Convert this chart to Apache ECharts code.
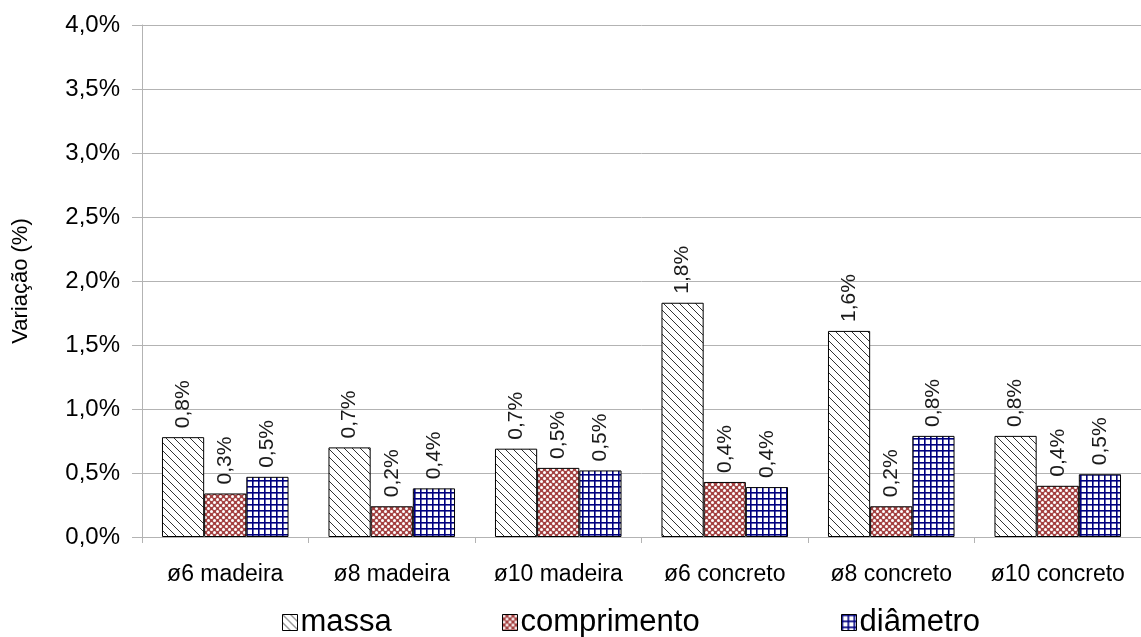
<!DOCTYPE html>
<html>
<head>
<meta charset="utf-8">
<script src="https://cdn.jsdelivr.net/npm/echarts@6/dist/echarts.min.js"></script>
<style>
  html, body { margin: 0; padding: 0; background: #fff; }
  #chart { width: 1141px; height: 637px; }
</style>
</head>
<body>
<div id="chart"></div>
<script>
// Categories and series values (percent)
var categories = ['ø6 madeira', 'ø8 madeira', 'ø10 madeira', 'ø6 concreto', 'ø8 concreto', 'ø10 concreto'];
var massa = [0.78, 0.70, 0.69, 1.83, 1.61, 0.79];
var comprimento = [0.34, 0.24, 0.54, 0.43, 0.24, 0.40];
var diametro = [0.47, 0.38, 0.52, 0.39, 0.79, 0.49];
var seriesNames = ['massa', 'comprimento', 'diâmetro'];
var yTicks = { min: 0, max: 4, interval: 0.5 };

var FONT = '"Liberation Sans", Arial, sans-serif';

function fmtPct(v) {
  return v.toFixed(1).replace('.', ',') + '%';
}

// Hatch fills drawn on small tiles
function hatchDiagonal() {
  var c = document.createElement('canvas');
  c.width = 8; c.height = 8;
  var g = c.getContext('2d');
  g.fillStyle = '#ffffff';
  g.fillRect(0, 0, 8, 8);
  g.strokeStyle = '#333333';
  g.lineWidth = 1;
  g.beginPath();
  // "\" direction lines, tiled seamlessly
  g.moveTo(-1, -1); g.lineTo(9, 9);
  g.moveTo(-9, -1); g.lineTo(1, 9);
  g.moveTo(7, -1); g.lineTo(17, 9);
  g.stroke();
  return c;
}

function hatchDots() {
  var c = document.createElement('canvas');
  c.width = 6; c.height = 6;
  var g = c.getContext('2d');
  g.fillStyle = '#a44242';
  g.fillRect(0, 0, 6, 6);
  g.fillStyle = '#ffffff';
  g.beginPath(); g.arc(1.5, 1.5, 1.5, 0, Math.PI * 2); g.fill();
  g.beginPath(); g.arc(4.5, 4.5, 1.5, 0, Math.PI * 2); g.fill();
  return c;
}

function hatchGrid() {
  var c = document.createElement('canvas');
  c.width = 6; c.height = 6;
  var g = c.getContext('2d');
  g.fillStyle = '#ffffff';
  g.fillRect(0, 0, 6, 6);
  g.fillStyle = '#000080';
  g.fillRect(0, 0, 6, 1.6);
  g.fillRect(0, 0, 1.6, 6);
  return c;
}

var fills = [
  { image: hatchDiagonal(), repeat: 'repeat' },
  { image: hatchDots(), repeat: 'repeat' },
  { image: hatchGrid(), repeat: 'repeat' }
];
var seriesData = [massa, comprimento, diametro];

var chart = echarts.init(document.getElementById('chart'), null, { renderer: 'canvas' });

var series = seriesNames.map(function (name, i) {
  return {
    name: name,
    type: 'bar',
    data: seriesData[i],
    barGap: '0%',
    barCategoryGap: '24%',
    itemStyle: { color: fills[i], borderColor: '#000000', borderWidth: 1 },
    emphasis: { disabled: true },
    label: {
      show: true,
      position: 'top',
      rotate: 90,
      align: 'left',
      verticalAlign: 'middle',
      distance: 9,
      fontFamily: FONT,
      fontSize: 21,
      color: '#1a1a1a',
      formatter: function (p) { return fmtPct(p.value); }
    }
  };
});

function legendAt(name, left) {
  return {
    data: [name],
    left: left,
    top: 607,
    padding: 0,
    itemWidth: 15,
    itemHeight: 16,
    icon: 'rect',
    selectedMode: false,
    textStyle: { fontFamily: FONT, fontSize: 31, color: '#000000', padding: [0, 0, 0, -2] },
    itemStyle: { borderColor: '#000000', borderWidth: 1 }
  };
}

chart.setOption({
  animation: false,
  backgroundColor: '#ffffff',
  grid: { left: 142, right: 0, top: 25, bottom: 100, containLabel: false },
  legend: [
    legendAt('massa', 282),
    legendAt('comprimento', 502),
    legendAt('diâmetro', 841)
  ],
  xAxis: {
    type: 'category',
    data: categories,
    axisLine: { show: true, lineStyle: { color: '#b3b3b3', width: 1 } },
    axisTick: { show: true, length: 6, lineStyle: { color: '#b3b3b3' } },
    axisLabel: { interval: 0, hideOverlap: false, fontFamily: FONT, fontSize: 23, color: '#000000', margin: 26 },
    splitLine: { show: false }
  },
  yAxis: {
    type: 'value',
    min: yTicks.min,
    max: yTicks.max,
    interval: yTicks.interval,
    name: 'Variação (%)',
    nameLocation: 'middle',
    nameGap: 110,
    nameRotate: 90,
    nameTextStyle: { fontFamily: FONT, fontSize: 22, color: '#000000' },
    axisLine: { show: true, lineStyle: { color: '#b3b3b3', width: 1 } },
    axisTick: { show: true, length: 10, lineStyle: { color: '#b3b3b3' } },
    axisLabel: {
      fontFamily: FONT, fontSize: 24, color: '#000000', margin: 22,
      formatter: function (v) { return fmtPct(v); }
    },
    splitLine: { show: true, lineStyle: { color: '#b3b3b3', width: 1 } }
  },
  series: series
});
</script>
</body>
</html>
